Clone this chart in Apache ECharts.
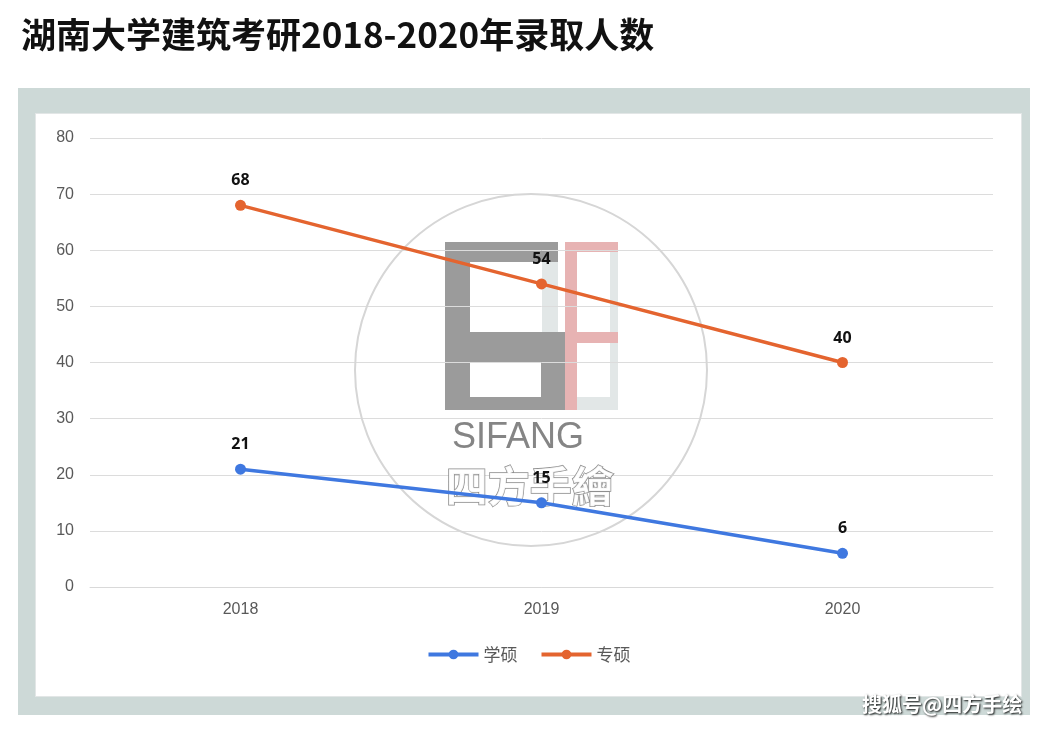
<!DOCTYPE html>
<html>
<head>
<meta charset="utf-8">
<script src="https://cdn.jsdelivr.net/npm/echarts@6/dist/echarts.min.js"></script>
<style>
html,body{margin:0;padding:0;background:#fff;width:1057px;height:731px;overflow:hidden;}
#frame{position:absolute;left:18px;top:88px;width:1012px;height:627px;background:#cdd9d7;}
#panel{position:absolute;left:35px;top:113px;width:985px;height:582px;background:#fff;border:1px solid #e2e6e6;}
#chart{position:absolute;left:0;top:0;width:1057px;height:731px;}
</style>
</head>
<body>
<div id="frame"></div>
<div id="panel"></div>
<div id="chart"></div>
<script>
const titleText = '湖南大学建筑考研2018-2020年录取人数';
const categories = ['2018', '2019', '2020'];
const seriesNames = ['学硕', '专硕'];
const xueshuo = [21, 15, 6];
const zhuanshuo = [68, 54, 40];
const yTicks = [0, 10, 20, 30, 40, 50, 60, 70, 80];

const chart = echarts.init(document.getElementById('chart'), null, {renderer: 'canvas'});
const labelStyle = {show: true, position: 'top', distance: 11, color: '#111', fontWeight: 'bold', fontSize: 16, fontFamily: 'Noto Sans'};
const G = '#8a8a8a', P = '#e3a6a6', L = '#dde3e3';
function r(x, y, w, h, c) { return {type: 'rect', shape: {x: x, y: y, width: w, height: h}, style: {fill: c, opacity: 0.85}}; }
chart.setOption({
  backgroundColor: 'transparent',
  animation: false,
  title: {
    text: titleText, left: 16, top: 12,
    textStyle: {fontFamily: 'Noto Sans CJK SC', fontWeight: 'bold', fontSize: 35, color: '#111'}
  },
  legend: {
    data: seriesNames, bottom: 63, left: 'center', itemGap: 22, itemWidth: 50, itemHeight: 12,
    lineStyle: {width: 4},
    textStyle: {color: '#595959', fontSize: 17, fontFamily: 'Noto Sans CJK SC'}
  },
  grid: {left: 90, right: 64, top: 138, bottom: 144},
  xAxis: {
    type: 'category', data: categories, boundaryGap: true,
    axisLine: {lineStyle: {color: '#d9d9d9', width: 1}},
    axisTick: {show: false},
    axisLabel: {color: '#595959', fontSize: 16, margin: 15, fontFamily: 'Liberation Sans'}
  },
  yAxis: {
    type: 'value', min: yTicks[0], max: yTicks[yTicks.length - 1], interval: 10,
    axisLine: {show: false}, axisTick: {show: false},
    splitLine: {lineStyle: {color: '#dcdcdc', width: 1}},
    axisLabel: {color: '#595959', fontSize: 16, margin: 16, fontFamily: 'Liberation Sans'}
  },
  graphic: [
    {type: 'circle', shape: {cx: 531, cy: 370, r: 176}, style: {fill: 'none', stroke: '#d6d6d6', lineWidth: 2}, z: 1},
    {type: 'group', z: 1, children: [
      r(445, 242, 113, 20, G),
      r(542, 262, 16, 70, L),
      r(445, 262, 25, 70, G),
      r(445, 332, 120, 30, G),
      r(541, 362, 24, 48, G),
      r(445, 362, 25, 48, G),
      r(470, 397, 71, 13, G),
      r(565, 242, 12, 168, P),
      r(577, 242, 41, 10, P),
      r(577, 332, 41, 11, P),
      r(610, 252, 8, 80, L),
      r(610, 343, 8, 54, L),
      r(577, 397, 41, 13, L)
    ]},
    {type: 'text', z: 1, left: 452, top: 420, style: {text: 'SIFANG', fill: 'rgba(120,120,120,0.9)', fontSize: 36, fontFamily: 'Liberation Sans'}},
    {type: 'text', z: 1, left: 445, top: 464, style: {text: '四方手繪', fill: 'rgba(255,255,255,0.9)', stroke: 'rgba(130,130,130,0.9)', lineWidth: 1.5, fontSize: 42, fontWeight: 'bold', fontFamily: 'Noto Sans CJK TC'}},
    {type: 'text', z: 10, left: 862, top: 694, style: {text: '搜狐号@四方手绘', fill: '#fff', fontSize: 20, fontWeight: 'bold', fontFamily: 'Noto Sans CJK SC', textShadowColor: 'rgba(0,0,0,0.9)', textShadowBlur: 2, textShadowOffsetX: 1, textShadowOffsetY: 1}}
  ],
  series: [
    {name: seriesNames[0], type: 'line', data: xueshuo, color: '#3f78e0',
     symbol: 'circle', symbolSize: 11, lineStyle: {width: 3.5, color: '#3f78e0'}, itemStyle: {color: '#3f78e0'},
     label: labelStyle, z: 3},
    {name: seriesNames[1], type: 'line', data: zhuanshuo, color: '#e4642f',
     symbol: 'circle', symbolSize: 11, lineStyle: {width: 3.5, color: '#e4642f'}, itemStyle: {color: '#e4642f'},
     label: labelStyle, z: 3}
  ]
});
</script>
</body>
</html>
